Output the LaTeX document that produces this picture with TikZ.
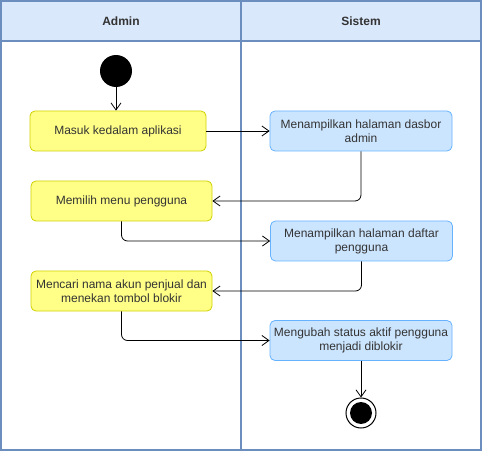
\documentclass[tikz,border=0pt]{standalone}
\usepackage{fontspec}
\setmainfont{Liberation Sans}
\usetikzlibrary{positioning,arrows.meta}

\definecolor{laneline}{HTML}{6C8EBF}
\definecolor{lanefill}{HTML}{DAE8FC}
\definecolor{userfill}{HTML}{FFFF88}
\definecolor{userline}{HTML}{D0D000}
\definecolor{sysfill}{HTML}{CCE5FF}
\definecolor{sysline}{HTML}{66B2FF}
\definecolor{txt}{HTML}{333333}

\begin{document}
\begin{tikzpicture}[x=1pt,y=-1pt,inner sep=0.4mm,
  lane/.style={draw=laneline,line width=1.3pt},
  head/.style={font=\fontsize{12}{14}\selectfont\bfseries,text=txt},
  userbox/.style={draw=userline,fill=userfill,rounded corners=5pt,line width=0.8pt,
    minimum height=40pt,align=center,text=txt,font=\fontsize{12}{14}\selectfont},
  sysbox/.style={draw=sysline,fill=sysfill,rounded corners=5pt,line width=0.8pt,
    minimum width=182pt,minimum height=40pt,align=center,text=txt,font=\fontsize{12}{14}\selectfont},
  flow/.style={line width=0.8pt,rounded corners=6pt,-{Straight Barb[length=7pt,width=10pt]}}]
\useasboundingbox (0,0) rectangle (483,452);

% lanes
\fill[lanefill] (1,1) rectangle (481,41);
\draw[lane] (1,1) rectangle (241,450);
\draw[lane] (241,1) rectangle (481,450);
\draw[lane] (1,41) -- (481,41);
\node[head] (admin) at (121,21) {Admin};
\node[head] (sistem) at (361,21) {Sistem};

% activities
\node[circle,fill=black,minimum size=32pt,inner sep=0pt] (start) at (116,71) {};
\node[userbox,minimum width=176pt] (masuk) at (118,131) {Masuk kedalam aplikasi};
\node[sysbox] (dasbor) at (361,131) {Menampilkan halaman dasbor\\admin};
\node[userbox,minimum width=181pt] (memilih) at (121.5,201) {Memilih menu pengguna};
\node[sysbox] (daftar) at (361.5,241) {Menampilkan halaman daftar\\pengguna};
\node[userbox,minimum width=181pt] (mencari) at (121.5,291) {Mencari nama akun penjual dan\\menekan tombol blokir};
\node[sysbox] (ubah) at (361,340.5) {Mengubah status aktif pengguna\\menjadi diblokir};
\node[circle,draw,line width=1pt,fill=white,minimum size=30pt,inner sep=0pt] (finish) at (361,413) {};
\node[circle,fill=black,minimum size=22pt,inner sep=0pt] (finishdot) at (finish) {};

% flows
\draw[flow] (start) -- (start |- masuk.north);
\draw[flow] (masuk) -- (dasbor);
\draw[flow] (dasbor.south) |- (memilih.east);
\draw[flow] (memilih.south) |- (daftar.west);
\draw[flow] (daftar.south) |- (mencari.east);
\draw[flow] (mencari.south) |- (ubah.west);
\draw[flow] (ubah) -- (finish);
\end{tikzpicture}
\end{document}
